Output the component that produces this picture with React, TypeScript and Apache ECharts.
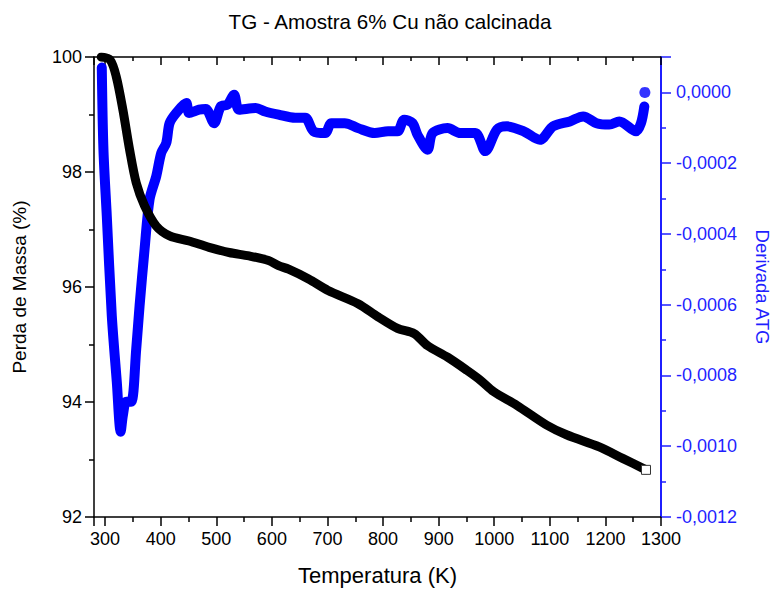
import React, { useEffect, useRef } from "react";
import * as echarts from "echarts";

const titleText = "TG - Amostra 6% Cu não calcinada";
const xName = "Temperatura (K)";
const yLeftName = "Perda de Massa (%)";
const yRightName = "Derivada ATG";

// TG curve (mass %)
const tgTemp = [293, 309, 320, 332, 344, 356, 371, 392, 416, 451, 487, 523, 559, 594, 612, 630, 666, 701, 755, 791, 826, 856, 880, 916, 951, 975, 999, 1041, 1094, 1130, 1189, 1231, 1273];
const tgMass = [100.0, 99.95, 99.66, 99.08, 98.39, 97.81, 97.41, 97.06, 96.89, 96.8, 96.69, 96.6, 96.54, 96.46, 96.37, 96.31, 96.14, 95.94, 95.71, 95.48, 95.28, 95.19, 94.98, 94.78, 94.55, 94.38, 94.18, 93.94, 93.6, 93.43, 93.22, 93.02, 92.82];

// Derivative curve
const dtgTemp = [294, 297, 303, 312, 321, 328, 332, 338, 347, 356, 362, 371, 380, 392, 401, 410, 416, 428, 446, 451, 469, 481, 496, 508, 520, 532, 541, 571, 588, 612, 642, 660, 675, 696, 707, 731, 755, 785, 809, 826, 838, 853, 862, 880, 889, 916, 939, 966, 984, 1005, 1023, 1053, 1082, 1106, 1136, 1160, 1184, 1207, 1225, 1255, 1264, 1270];
const dtgValue = [0.00007, -0.000162, -0.000349, -0.000631, -0.000818, -0.000959, -0.000912, -0.000874, -0.000874, -0.000724, -0.000603, -0.000443, -0.000302, -0.000237, -0.000171, -0.000143, -0.000087, -0.000058, -0.00003, -0.000058, -0.000049, -0.000047, -0.000087, -0.00004, -0.000035, -0.000007, -0.000049, -0.000044, -0.000054, -0.000063, -0.000072, -0.000072, -0.00011, -0.000115, -0.000087, -0.000087, -0.000101, -0.000115, -0.00011, -0.00011, -0.000077, -0.000087, -0.00012, -0.000162, -0.000115, -0.000101, -0.000115, -0.000115, -0.000166, -0.000105, -0.000096, -0.00011, -0.000134, -0.000096, -0.000082, -0.000068, -0.000087, -0.000091, -0.000082, -0.00011, -0.000087, -0.00004];
const dtgLastPoint = [1271, 0.0];

const FONT = "'Liberation Sans', Arial, sans-serif";
const BLUE = "#0000ff";
const AXIS_BLUE = "#1f1fff";

export default function App() {
  const ref = useRef<HTMLDivElement>(null);
  useEffect(() => {
    if (!ref.current) return;
    const chart = echarts.init(ref.current, null, { renderer: "svg" });
    const fmtRight = (v: number) => {
      if (Math.abs(v) < 1e-9) return "0,0000";
      return v.toFixed(4).replace(".", ",");
    };
    chart.setOption({
      animation: false,
      backgroundColor: "#ffffff",
      textStyle: { fontFamily: FONT },
      title: {
        text: titleText,
        left: "center",
        top: 6,
        textStyle: { fontFamily: FONT, fontSize: 20.6, fontWeight: "normal", color: "#000" },
      },
      grid: { left: 94, right: 114, top: 57, bottom: 72, containLabel: false },
      xAxis: [
        {
          type: "value",
          min: 280,
          max: 1300,
          splitNumber: 10,
          position: "bottom",
          name: xName,
          nameLocation: "middle",
          nameGap: 47,
          nameTextStyle: { fontFamily: FONT, fontSize: 22, color: "#000" },
          axisLine: { onZero: false, lineStyle: { color: "#000", width: 1.5 } },
          axisTick: { show: true, length: 9, lineStyle: { color: "#000", width: 1.5 } },
          minorTick: { show: true, splitNumber: 2, length: 5, lineStyle: { color: "#000", width: 1.5 } },
          axisLabel: { showMinLabel: false, margin: 13, fontFamily: FONT, fontSize: 18, color: "#000", formatter: (v: number) => String(v) },
          splitLine: { show: false },
        },
        {
          type: "value",
          min: 280,
          max: 1300,
          splitNumber: 10,
          position: "top",
          axisLine: { onZero: false, lineStyle: { color: "#000", width: 1.5 } },
          axisTick: { show: true, inside: true, length: 8, lineStyle: { color: "#000", width: 1.5 } },
          minorTick: { show: true, splitNumber: 2, length: 4, lineStyle: { color: "#000", width: 1.5 } },
          axisLabel: { show: false },
          splitLine: { show: false },
        },
      ],
      yAxis: [
        {
          type: "value",
          min: 92,
          max: 100,
          interval: 2,
          position: "left",
          name: yLeftName,
          nameLocation: "middle",
          nameGap: 65,
          nameRotate: 90,
          nameTextStyle: { fontFamily: FONT, fontSize: 19, color: "#000" },
          axisLine: { show: true, onZero: false, lineStyle: { color: "#000", width: 1.5 } },
          axisTick: { show: true, length: 9, lineStyle: { color: "#000", width: 1.5 } },
          minorTick: { show: true, splitNumber: 2, length: 5, lineStyle: { color: "#000", width: 1.5 } },
          axisLabel: { margin: 12, fontFamily: FONT, fontSize: 18, color: "#000" },
          splitLine: { show: false },
        },
        {
          type: "value",
          min: -0.0012,
          max: 0.0001,
          interval: 0.0002,
          position: "right",
          name: yRightName,
          nameLocation: "middle",
          nameGap: 92,
          nameRotate: -90,
          nameTextStyle: { fontFamily: FONT, fontSize: 18.5, color: AXIS_BLUE },
          axisLine: { show: true, onZero: false, lineStyle: { color: AXIS_BLUE, width: 2 } },
          axisTick: { show: true, length: 10, lineStyle: { color: AXIS_BLUE, width: 1.5 } },
          minorTick: { show: true, splitNumber: 2, length: 5, lineStyle: { color: AXIS_BLUE, width: 1.5 } },
          axisLabel: { showMaxLabel: false, margin: 15, fontFamily: FONT, fontSize: 18, color: AXIS_BLUE, formatter: fmtRight },
          splitLine: { show: false },
        },
      ],
      series: [
        {
          type: "line",
          name: "DTG",
          xAxisIndex: 0,
          yAxisIndex: 1,
          data: dtgTemp.map((t, i) => [t, dtgValue[i]]),
          showSymbol: false,
          smooth: 0.3,
          lineStyle: { color: BLUE, width: 10, cap: "round", join: "round" },
          z: 2,
        },
        {
          type: "scatter",
          name: "DTG end",
          xAxisIndex: 0,
          yAxisIndex: 1,
          data: [dtgLastPoint],
          symbol: "circle",
          symbolSize: 11,
          itemStyle: { color: BLUE },
          z: 2,
        },
        {
          type: "line",
          name: "TG",
          xAxisIndex: 0,
          yAxisIndex: 0,
          data: tgTemp.map((t, i) => [t, tgMass[i]]),
          showSymbol: false,
          smooth: 0.3,
          lineStyle: { color: "#000", width: 9, cap: "round", join: "round" },
          z: 3,
        },
        {
          type: "scatter",
          name: "TG end",
          xAxisIndex: 0,
          yAxisIndex: 0,
          data: [[tgTemp[tgTemp.length - 1], tgMass[tgMass.length - 1]]],
          symbol: "rect",
          symbolSize: 9,
          itemStyle: { color: "#ffffff", borderColor: "#333333", borderWidth: 1, opacity: 1 },
          emphasis: { disabled: true },
          z: 4,
        },
      ],
    });
    return () => chart.dispose();
  }, []);
  return <div ref={ref} style={{ width: 780, height: 591, position: "absolute", left: 0, top: 0 }} />;
}
